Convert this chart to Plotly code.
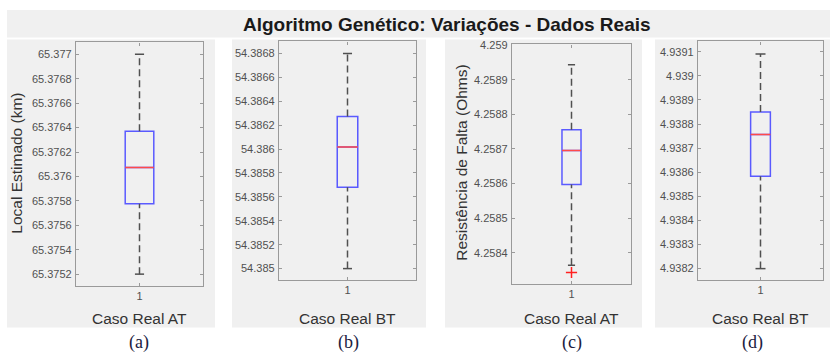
import plotly.graph_objects as go

W, H = 830, 355

# ---- data -------------------------------------------------------------
chart_title = "Algoritmo Genético: Variações - Dados Reais"
x_titles = ["Caso Real AT", "Caso Real BT", "Caso Real AT", "Caso Real BT"]
y_titles = ["Local Estimado (km)", "", "Resistência de Falta (Ohms)", ""]
sub_labels = ["(a)", "(b)", "(c)", "(d)"]
x_tick_label = ["1"]

lower_whisker = [65.375200, 54.385000, 4.2583642, 4.9382000]
q1_values = [65.375777, 54.385681, 4.2585974, 4.9385832]
median_values = [65.376073, 54.386017, 4.2586958, 4.9387563]
q3_values = [65.376369, 54.386272, 4.2587555, 4.9388504]
upper_whisker = [65.377000, 54.386800, 4.2589431, 4.9390906]
outlier_values = [[], [], [4.2583432], []]

y_tick_labels = [
    ["65.3752", "65.3754", "65.3756", "65.3758", "65.376",
     "65.3762", "65.3764", "65.3766", "65.3768", "65.377"],
    ["54.385", "54.3852", "54.3854", "54.3856", "54.3858",
     "54.386", "54.3862", "54.3864", "54.3866", "54.3868"],
    ["4.2584", "4.2585", "4.2586", "4.2587", "4.2588", "4.2589", "4.259"],
    ["4.9382", "4.9383", "4.9384", "4.9385", "4.9386",
     "4.9387", "4.9388", "4.9389", "4.939", "4.9391"],
]
y_ranges = [
    [65.375103, 65.377097],
    [54.384904, 54.386900],
    [4.2583100, 4.2590020],
    [4.9381525, 4.9391425],
]

# ---- layout geometry (pixels) -----------------------------------------
plot_boxes = [(76, 38, 203, 285), (279, 37, 416, 279),
              (512, 40, 631, 283), (698, 37, 823, 279)]
panels = [(7, 35, 215, 327), (232, 35, 426, 327),
          (445, 35, 642, 327), (655, 35, 830, 327)]
box_widths = [0.225, 0.15, 0.16, 0.158]
cap_half = [0.036, 0.033, 0.03, 0.04]
y_title_pos = [(17, 161), None, (462, 160), None]
sub_label_x = [139, 348, 572, 752]

FONT = "Arial, Liberation Sans, Helvetica, sans-serif"
BLUE = "#5a5aff"
RED = "#ff4a4a"
WHISKER = "#505050"
AXIS = "#9a9a9a"
PANEL = "#f0f0f0"


def px(x):
    return x / W


def py(y):
    return 1 - y / H


fig = go.Figure()
shapes = []
annotations = []

# title band
shapes.append(dict(type="rect", xref="paper", yref="paper",
                   x0=px(7), x1=px(830), y0=py(33), y1=py(5),
                   fillcolor=PANEL, line=dict(width=0), layer="below"))
annotations.append(dict(text="<b>" + chart_title + "</b>", xref="paper", yref="paper",
                        x=px(447), y=py(20), xanchor="center", yanchor="middle",
                        showarrow=False, font=dict(size=19, color="#1a1a1a", family=FONT)))

for i in range(4):
    n = "" if i == 0 else str(i + 1)
    xa, ya = "x" + n, "y" + n
    x0, y0, x1, y1 = plot_boxes[i]

    # grey panel behind each subplot
    p0, q0, p1, q1p = panels[i]
    shapes.append(dict(type="rect", xref="paper", yref="paper",
                       x0=px(p0), x1=px(p1), y0=py(q1p), y1=py(q0),
                       fillcolor=PANEL, line=dict(width=0), layer="below"))

    # dashed whiskers
    for lo, hi in ((q3_values[i], upper_whisker[i]), (lower_whisker[i], q1_values[i])):
        fig.add_trace(go.Scatter(x=[1, 1], y=[lo, hi], mode="lines", xaxis=xa, yaxis=ya,
                                 line=dict(color=WHISKER, width=1.5, dash="7px,4px"),
                                 showlegend=False, hoverinfo="skip"))
    # whisker caps
    for v in (upper_whisker[i], lower_whisker[i]):
        fig.add_trace(go.Scatter(x=[1 - cap_half[i], 1 + cap_half[i]], y=[v, v], mode="lines",
                                 xaxis=xa, yaxis=ya, line=dict(color=WHISKER, width=1.5),
                                 showlegend=False, hoverinfo="skip"))

    # box body (q1 .. q3)
    fig.add_trace(go.Box(x=[1], q1=[q1_values[i]], median=[median_values[i]],
                         q3=[q3_values[i]], lowerfence=[q1_values[i]],
                         upperfence=[q3_values[i]], width=box_widths[i],
                         whiskerwidth=0, boxpoints=False,
                         line=dict(color=BLUE, width=1.5), fillcolor="rgba(0,0,0,0)",
                         xaxis=xa, yaxis=ya, showlegend=False, hoverinfo="skip"))

    # red median line
    hw = box_widths[i] / 2
    fig.add_trace(go.Scatter(x=[1 - hw, 1 + hw], y=[median_values[i]] * 2, mode="lines",
                             xaxis=xa, yaxis=ya, line=dict(color=RED, width=1.6),
                             showlegend=False, hoverinfo="skip"))

    # outliers
    if outlier_values[i]:
        fig.add_trace(go.Scatter(x=[1] * len(outlier_values[i]), y=outlier_values[i],
                                 mode="markers", xaxis=xa, yaxis=ya,
                                 marker=dict(symbol="cross-thin", size=8,
                                             line=dict(color="#ff2020", width=1.5)),
                                 showlegend=False, hoverinfo="skip"))

    common = dict(showline=True, linecolor=AXIS, linewidth=1.3, mirror="ticks",
                  ticks="inside", ticklen=3, tickcolor=AXIS, tickwidth=1,
                  showgrid=False, zeroline=False, fixedrange=True,
                  tickfont=dict(size=11, color="#505050", family=FONT))
    fig.layout["xaxis" + n] = dict(domain=[px(x0), px(x1)], range=[0.5, 1.5],
                                   anchor=ya, tickvals=[1], ticktext=x_tick_label, **common)
    fig.layout["yaxis" + n] = dict(domain=[py(y1), py(y0)], range=y_ranges[i],
                                   anchor=xa,
                                   tickvals=[float(t) for t in y_tick_labels[i]],
                                   ticktext=y_tick_labels[i], ticklabelstandoff=1, **common)

    # axis titles
    annotations.append(dict(text=x_titles[i], xref="paper", yref="paper",
                            x=px((x0 + x1) / 2), y=py(318), xanchor="center", yanchor="middle",
                            showarrow=False, font=dict(size=15.5, color="#333333", family=FONT)))
    if y_title_pos[i]:
        tx, ty = y_title_pos[i]
        annotations.append(dict(text=y_titles[i], xref="paper", yref="paper",
                                x=px(tx), y=py(ty), xanchor="center", yanchor="middle",
                                textangle=-90, showarrow=False,
                                font=dict(size=15.5, color="#333333", family=FONT)))
    # panel letter
    annotations.append(dict(text=sub_labels[i], xref="paper", yref="paper",
                            x=px(sub_label_x[i]), y=py(342), xanchor="center", yanchor="middle",
                            showarrow=False,
                            font=dict(size=18, color="#202040",
                                      family="Liberation Serif, DejaVu Serif, serif")))

fig.update_layout(width=W, height=H, margin=dict(l=0, r=0, t=0, b=0),
                  paper_bgcolor="white", plot_bgcolor="white",
                  shapes=shapes, annotations=annotations, showlegend=False)

fig.write_html("out.html", config={"displayModeBar": False})
